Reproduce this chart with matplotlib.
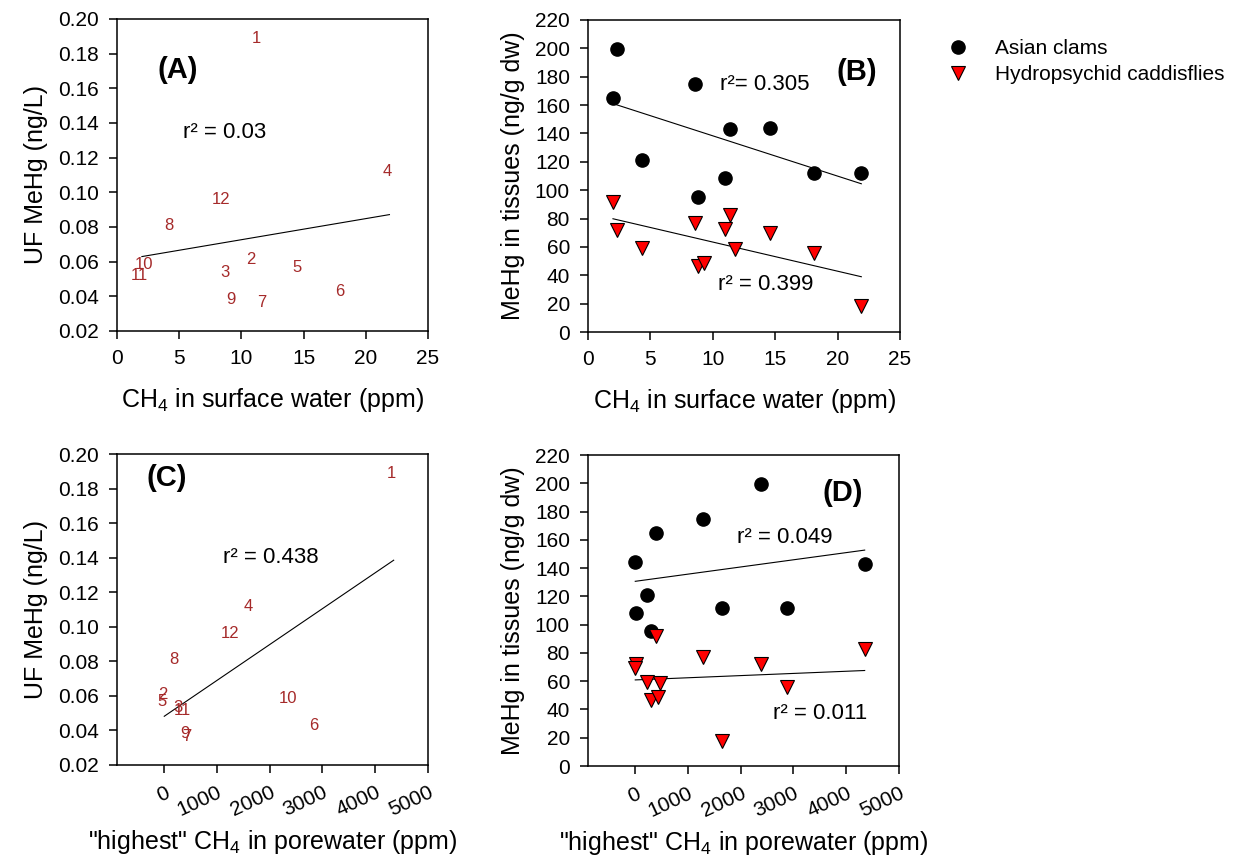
import numpy as np
import matplotlib.pyplot as plt
from matplotlib.lines import Line2D

plt.rcParams['font.family'] = ['Liberation Sans', 'DejaVu Sans']
plt.rcParams['mathtext.default'] = 'regular'

# one entry per site (1-12); nan = no clams collected
site = ["1", "2", "3", "4", "5", "6", "7", "8", "9", "10", "11", "12"]
surface_ch4 = [11.4, 10.95, 8.85, 21.9, 14.6, 18.1, 11.8, 4.3, 9.3, 2.3, 2.0, 8.55]
porewater_ch4 = [4350, 25, 310, 1640, 5, 2875, 475, 235, 430, 2390, 395, 1290]
uf_mehg = [0.1885, 0.061, 0.0535, 0.112, 0.0565, 0.043, 0.0367, 0.081, 0.0384,
           0.0586, 0.0518, 0.096]
clam_mehg = [143, 108.5, 95.5, 112, 144, 112, np.nan, 121, np.nan, 199.4, 164.8, 174.7]
caddis_mehg = [82.5, 72.4, 46.5, 18, 69.5, 55.8, 58.5, 59.5, 48.9, 72, 91.9, 77.2]

r2_a = "r² = 0.03"
r2_b = ["r²= 0.305", "r² = 0.399"]
r2_c = "r² = 0.438"
r2_d = ["r² = 0.049", "r² = 0.011"]

site_red = "#a52a2a"
tri_red = "#ff0000"

W, H = 1243, 861
fig = plt.figure(figsize=(W / 100, H / 100), dpi=100)


def px_axes(l, t, r, b):
    return fig.add_axes([l / W, 1 - b / H, (r - l) / W, (b - t) / H])


def style(ax, xlim, xticks, ylim, yticks, yfmt, xlabel, ylabel, rot=False):
    ax.set_xlim(xlim)
    ax.set_ylim(ylim)
    ax.set_xticks(xticks)
    ax.set_yticks(yticks)
    ax.set_yticklabels([yfmt % v for v in yticks])
    if rot:
        ax.set_xticklabels([str(v) for v in xticks], rotation=25, ha="right",
                           rotation_mode="anchor")
        ax.set_xlabel(xlabel, fontsize=18, labelpad=6)
    else:
        ax.set_xlabel(xlabel, fontsize=18, labelpad=13)
    ax.set_ylabel(ylabel, fontsize=18, labelpad=7)
    ax.tick_params(direction="out", length=6, width=1.1, labelsize=15, pad=7)
    for s in ax.spines.values():
        s.set_linewidth(1.1)


def fit_line(ax, x, y):
    x = np.asarray(x, float)
    y = np.asarray(y, float)
    ok = ~np.isnan(y)
    k, b = np.polyfit(x[ok], y[ok], 1)
    xs = np.array([x[ok].min(), x[ok].max()])
    ax.plot(xs, k * xs + b, color="black", lw=0.8, zorder=2)


def site_labels(ax, x):
    for s, xv, yv in zip(site, x, uf_mehg):
        ax.annotate(s, (xv, yv), xytext=(-1.5, 0), textcoords="offset points",
                    ha="center", va="center", fontsize=12, color=site_red)


def tissue_points(ax, x):
    ax.plot(x, clam_mehg, "o", ms=9.5, mfc="black", mec="black", zorder=3)
    ax.plot(x, caddis_mehg, "v", ms=9.5, mfc=tri_red, mec="black", mew=0.8, zorder=4)
    fit_line(ax, x, clam_mehg)
    fit_line(ax, x, caddis_mehg)


xlab_surf = "CH$_4$ in surface water (ppm)"
xlab_pore = '"highest" CH$_4$ in porewater (ppm)'
ylab_uf = "UF MeHg (ng/L)"
ylab_tis = "MeHg in tissues (ng/g dw)"

uf_ticks = np.round(np.arange(0.02, 0.2001, 0.02), 2)
tis_ticks = np.arange(0, 221, 20)
surf_ticks = np.arange(0, 26, 5)
pore_ticks = np.arange(0, 5001, 1000)

# (A)
axA = px_axes(117, 19, 428, 331)
site_labels(axA, surface_ch4)
fit_line(axA, surface_ch4, uf_mehg)
style(axA, (0, 25), surf_ticks, (0.02, 0.20), uf_ticks, "%.2f", xlab_surf, ylab_uf)
axA.text(0.196, 0.837, "(A)", transform=axA.transAxes, ha="center", va="center",
         fontsize=21, fontweight="bold")
axA.text(0.212, 0.635, r2_a, transform=axA.transAxes, ha="left", va="center", fontsize=16)

# (B)
axB = px_axes(588, 20, 900, 332)
tissue_points(axB, surface_ch4)
style(axB, (0, 25), surf_ticks, (0, 220), tis_ticks, "%d", xlab_surf, ylab_tis)
axB.text(0.862, 0.833, "(B)", transform=axB.transAxes, ha="center", va="center",
         fontsize=21, fontweight="bold")
axB.text(0.423, 0.792, r2_b[0], transform=axB.transAxes, ha="left", va="center", fontsize=16)
axB.text(0.417, 0.151, r2_b[1], transform=axB.transAxes, ha="left", va="center", fontsize=16)

# (C)
axC = px_axes(117, 454, 428, 765)
site_labels(axC, porewater_ch4)
fit_line(axC, porewater_ch4, uf_mehg)
style(axC, (-890, 5000), pore_ticks, (0.02, 0.20), uf_ticks, "%.2f", xlab_pore, ylab_uf,
      rot=True)
axC.text(0.161, 0.923, "(C)", transform=axC.transAxes, ha="center", va="center",
         fontsize=21, fontweight="bold")
axC.text(0.341, 0.666, r2_c, transform=axC.transAxes, ha="left", va="center", fontsize=16)

# (D)
axD = px_axes(588, 455, 899, 766)
tissue_points(axD, porewater_ch4)
style(axD, (-890, 5000), pore_ticks, (0, 220), tis_ticks, "%d", xlab_pore, ylab_tis,
      rot=True)
axD.text(0.82, 0.878, "(D)", transform=axD.transAxes, ha="center", va="center",
         fontsize=21, fontweight="bold")
axD.text(0.479, 0.736, r2_d[0], transform=axD.transAxes, ha="left", va="center", fontsize=16)
axD.text(0.595, 0.170, r2_d[1], transform=axD.transAxes, ha="left", va="center", fontsize=16)

handles = [
    Line2D([], [], ls="none", marker="o", ms=9.5, mfc="black", mec="black"),
    Line2D([], [], ls="none", marker="v", ms=9.5, mfc=tri_red, mec="black", mew=0.8),
]
fig.legend(handles, ["Asian clams", "Hydropsychid caddisflies"], loc="upper left",
           bbox_to_anchor=(947.6 / W, 1 - 39 / H), frameon=False, fontsize=15,
           borderpad=0, borderaxespad=0, handlelength=1.0, handletextpad=1.28,
           labelspacing=0.36)

fig.savefig("out.png", dpi=100)
